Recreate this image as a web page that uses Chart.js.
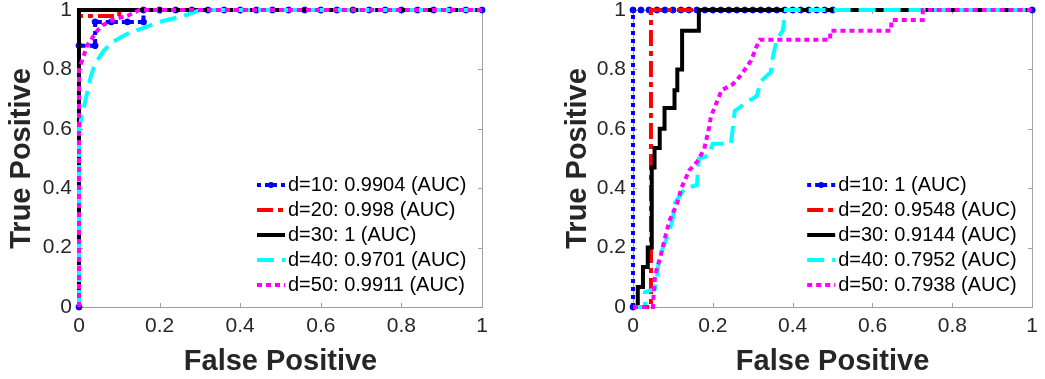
<!DOCTYPE html>
<html>
<head>
<meta charset="utf-8">
<script src="https://cdn.jsdelivr.net/npm/chart.js@4"></script>
<style>
  html, body { margin: 0; padding: 0; background: #fff; }
  #wrap { position: relative; width: 1045px; height: 379px; }
  #leftBox { position: absolute; left: 0; top: 0; width: 500px; height: 379px; }
  #rightBox { position: absolute; left: 545px; top: 0; width: 500px; height: 379px; }
</style>
</head>
<body>
<div id="wrap">
  <div id="leftBox"><canvas id="leftChart" width="500" height="379"></canvas></div>
  <div id="rightBox"><canvas id="rightChart" width="500" height="379"></canvas></div>
</div>
<script>
// tick labels (both axes, both panels)
const tickLabels = ['0', '0.2', '0.4', '0.6', '0.8', '1'];

// legend texts
const leftLabels = ['d=10: 0.9904 (AUC)', 'd=20: 0.998 (AUC)', 'd=30: 1 (AUC)', 'd=40: 0.9701 (AUC)', 'd=50: 0.9911 (AUC)'];
const rightLabels = ['d=10: 1 (AUC)', 'd=20: 0.9548 (AUC)', 'd=30: 0.9144 (AUC)', 'd=40: 0.7952 (AUC)', 'd=50: 0.7938 (AUC)'];

// ROC points [false positive, true positive], left panel
const leftD10 = [[0,0],[0,0.88],[0.04,0.88],[0.04,0.96],[0.08,0.96],[0.12,0.96],[0.16,0.96],[0.16,1],[0.2,1],[0.24,1],[0.28,1],[0.32,1],[0.36,1],[0.4,1],[0.44,1],[0.48,1],[0.52,1],[0.56,1],[0.6,1],[0.64,1],[0.68,1],[0.72,1],[0.76,1],[0.8,1],[0.84,1],[0.88,1],[0.92,1],[0.96,1],[1,1]];
const leftD20 = [[0,0],[0,0.98],[0.1,0.98],[0.1,1],[1,1]];
const leftD30 = [[0,0],[0,1],[1,1]];
const leftD40 = [[0,0],[0,0.6],[0.01,0.66],[0.02,0.72],[0.03,0.78],[0.04,0.82],[0.06,0.86],[0.08,0.89],[0.12,0.92],[0.16,0.94],[0.2,0.96],[0.26,0.98],[0.3,1],[1,1]];
const leftD50 = [[0,0],[0,0.8],[0.01,0.84],[0.02,0.88],[0.03,0.9],[0.045,0.93],[0.06,0.95],[0.09,0.97],[0.12,0.98],[0.15,1],[1,1]];

// right panel
const rightD10 = [[0,0],[0,1],[0.02,1],[0.04,1],[0.06,1],[0.08,1],[0.1,1],[0.12,1],[0.14,1],[0.16,1],[0.18,1],[0.2,1],[0.22,1],[0.24,1],[0.26,1],[0.28,1],[0.3,1],[0.32,1],[0.34,1],[0.36,1],[0.38,1],[0.4,1],[0.42,1],[0.44,1],[0.46,1],[0.48,1],[0.5,1],[1,1]];
const rightD20 = [[0,0],[0.045,0],[0.045,1],[1,1]];
const rightD30 = [[0,0],[0.012,0],[0.012,0.067],[0.025,0.067],[0.025,0.135],[0.037,0.135],[0.037,0.2],[0.047,0.2],[0.047,0.47],[0.054,0.47],[0.054,0.535],[0.067,0.535],[0.067,0.6],[0.079,0.6],[0.079,0.67],[0.104,0.67],[0.104,0.73],[0.111,0.73],[0.111,0.8],[0.123,0.8],[0.123,0.93],[0.165,0.93],[0.165,1],[1,1]];
const rightD40 = [[0,0],[0.03,0],[0.03,0.05],[0.055,0.06],[0.06,0.1],[0.065,0.16],[0.075,0.2],[0.09,0.25],[0.1,0.3],[0.105,0.35],[0.13,0.4],[0.16,0.41],[0.165,0.5],[0.19,0.51],[0.2,0.55],[0.245,0.55],[0.25,0.6],[0.255,0.66],[0.285,0.69],[0.31,0.71],[0.32,0.76],[0.345,0.79],[0.35,0.84],[0.36,0.9],[0.375,0.93],[0.383,1],[1,1]];
const rightD50 = [[0,0],[0.05,0],[0.052,0.05],[0.055,0.1],[0.06,0.13],[0.067,0.16],[0.074,0.2],[0.091,0.29],[0.111,0.35],[0.121,0.4],[0.141,0.46],[0.161,0.49],[0.178,0.53],[0.19,0.6],[0.195,0.64],[0.21,0.69],[0.222,0.73],[0.25,0.75],[0.27,0.78],[0.296,0.83],[0.309,0.875],[0.318,0.9],[0.494,0.9],[0.494,0.93],[0.647,0.93],[0.647,0.966],[0.726,0.966],[0.726,1],[1,1]];

const seriesColors = ['#0000ff', '#ff0000', '#000000', '#00ffff', '#ff00ff'];
const seriesDash = [[4, 4], [16, 5, 5, 5], [], [17, 8], [5, 4]];

Chart.defaults.font.family = '"Liberation Sans", Arial, Helvetica, sans-serif';
Chart.defaults.color = '#262626';

function makeSets(series, labels) {
    return series.map((pts, i) => ({
        label: labels[i],
        data: pts.map(p => ({ x: p[0], y: p[1] })),
        borderColor: seriesColors[i],
        backgroundColor: seriesColors[i],
        borderWidth: 4,
        borderDash: seriesDash[i],
        pointRadius: i === 0 ? 3 : 0,
        pointBorderWidth: 1,
        pointHoverRadius: 0,
        tension: 0,
        fill: false,
        clip: 8,
        order: 5 - i // later series drawn on top, like matlab
    }));
}

// grey box with inward ticks on all four sides
const boxPlugin = {
    id: 'axesBox',
    beforeDatasetsDraw(chart) {
        const { ctx, chartArea: a, scales } = chart;
        ctx.save();
        ctx.strokeStyle = '#a0a0a0';
        ctx.lineWidth = 1;
        ctx.strokeRect(Math.round(a.left) + 0.5, Math.round(a.top) + 0.5, Math.round(a.width), Math.round(a.height));
        ctx.beginPath();
        scales.x.ticks.forEach(t => {
            const px = Math.round(scales.x.getPixelForValue(t.value)) + 0.5;
            ctx.moveTo(px, a.bottom); ctx.lineTo(px, a.bottom - 4);
            ctx.moveTo(px, a.top); ctx.lineTo(px, a.top + 4);
        });
        scales.y.ticks.forEach(t => {
            const py = Math.round(scales.y.getPixelForValue(t.value)) + 0.5;
            ctx.moveTo(a.left, py); ctx.lineTo(a.left + 4, py);
            ctx.moveTo(a.right, py); ctx.lineTo(a.right - 4, py);
        });
        ctx.stroke();
        ctx.restore();
    }
};

// legend inside the plot, bottom right
const legendPlugin = {
    id: 'rocLegend',
    afterDatasetsDraw(chart) {
        const { ctx, chartArea: a } = chart;
        const x0 = a.right - 225;
        let y = a.bottom - 122;
        ctx.save();
        ctx.font = '20px "Liberation Sans", Arial, sans-serif';
        ctx.textBaseline = 'middle';
        ctx.textAlign = 'left';
        chart.data.datasets.slice().sort((p, q) => q.order - p.order).forEach(ds => {
            ctx.strokeStyle = ds.borderColor;
            ctx.lineWidth = ds.borderWidth;
            ctx.setLineDash(ds.borderDash);
            ctx.beginPath();
            ctx.moveTo(x0, y);
            ctx.lineTo(x0 + 28, y);
            ctx.stroke();
            ctx.setLineDash([]);
            if (ds.pointRadius > 0) {
                ctx.fillStyle = ds.borderColor;
                ctx.beginPath();
                ctx.arc(x0 + 14, y, ds.pointRadius, 0, Math.PI * 2);
                ctx.fill();
            }
            ctx.fillStyle = '#000';
            ctx.fillText(ds.label, x0 + 31, y);
            y += 25;
        });
        ctx.restore();
    }
};

function makeChart(id, series, labels, yWidth, yTitlePad, rightPad) {
    const ctx = document.getElementById(id).getContext('2d');
    return new Chart(ctx, {
        type: 'line',
        data: { datasets: makeSets(series, labels) },
        options: {
            responsive: false,
            animation: false,
            layout: { padding: { top: 10, right: rightPad, left: 0, bottom: 0 } },
            plugins: {
                legend: { display: false },
                tooltip: { enabled: false }
            },
            scales: {
                x: {
                    type: 'linear',
                    min: 0,
                    max: 1,
                    grid: { display: false, drawTicks: false },
                    border: { display: false },
                    ticks: {
                        stepSize: 0.2,
                        padding: 7,
                        maxRotation: 0,
                        font: { size: 21 },
                        callback: v => tickLabels[Math.round(v * 5)]
                    },
                    title: {
                        display: true,
                        text: 'False Positive',
                        font: { size: 29, weight: 'bold' },
                        padding: { top: 0, bottom: 0 }
                    },
                    afterFit: s => { s.height = 72; }
                },
                y: {
                    type: 'linear',
                    min: 0,
                    max: 1,
                    grid: { display: false, drawTicks: false },
                    border: { display: false },
                    ticks: {
                        stepSize: 0.2,
                        padding: 7,
                        font: { size: 21 },
                        callback: v => tickLabels[Math.round(v * 5)]
                    },
                    title: {
                        display: true,
                        text: 'True Positive',
                        font: { size: 29, weight: 'bold' },
                        padding: { top: yTitlePad, bottom: 0 }
                    },
                    afterFit: s => {
                        s.width = yWidth;
                        s.paddingTop = 0;
                        s.paddingBottom = 0;
                    }
                }
            }
        },
        plugins: [boxPlugin, legendPlugin]
    });
}

makeChart('leftChart', [leftD10, leftD20, leftD30, leftD40, leftD50], leftLabels, 79, 5, 18);
makeChart('rightChart', [rightD10, rightD20, rightD30, rightD40, rightD50], rightLabels, 88, 16, 7);
</script>
</body>
</html>
